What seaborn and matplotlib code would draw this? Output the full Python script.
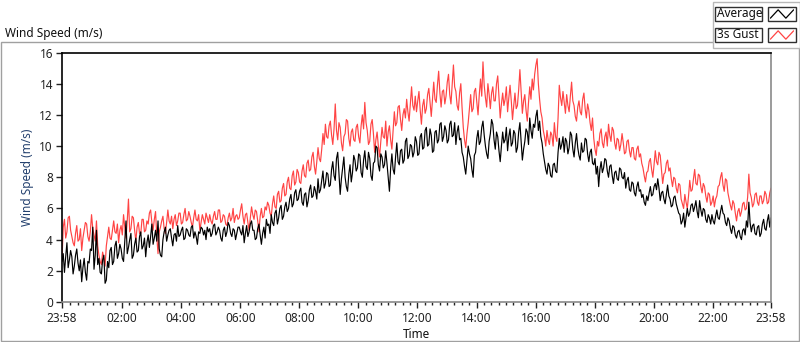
import numpy as np
import pandas as pd
import matplotlib
matplotlib.use("Agg")
import matplotlib.pyplot as plt
import seaborn as sns
from matplotlib.patches import Rectangle
from matplotlib.ticker import FixedLocator

# ------------------------------------------
# data: 2.5-minute readings from 23:58 to 23:58 (one row per hour)
# ------------------------------------------
avg_speed = [
    2.6, 3.1, 1.9, 2.9, 3.8, 2.2, 2.7, 3.3, 2.9, 1.8, 2.3, 3.0, 3.4, 2.5, 2.0, 2.7, 1.3, 2.2, 2.8, 1.9, 1.4, 2.6, 2.5, 3.4,
    3.3, 4.8, 2.1, 3.0, 4.6, 2.4, 2.8, 1.9, 1.8, 2.7, 3.0, 1.2, 1.4, 2.6, 2.2, 3.3, 3.5, 2.4, 2.6, 3.6, 3.9, 2.8, 3.1, 3.7,
    3.4, 2.8, 2.6, 3.9, 5.2, 3.1, 3.5, 4.0, 4.4, 2.8, 3.0, 3.7, 4.1, 3.2, 3.3, 4.2, 4.5, 3.4, 3.6, 4.1, 2.9, 3.8, 4.3, 3.5,
    4.2, 5.0, 3.7, 4.1, 4.6, 3.9, 5.2, 3.4, 3.0, 2.9, 4.0, 4.5, 4.8, 3.9, 4.3, 4.6, 4.7, 4.1, 3.6, 4.3, 4.4, 3.9, 4.9, 4.2,
    4.3, 4.6, 4.8, 4.0, 4.1, 4.7, 4.6, 4.3, 4.2, 4.8, 4.9, 4.1, 4.5, 4.2, 3.7, 4.5, 4.4, 4.8, 4.7, 4.3, 4.6, 4.0, 4.8, 4.5,
    4.7, 4.2, 4.4, 4.9, 5.0, 4.3, 4.5, 4.8, 4.6, 4.1, 3.9, 4.6, 4.8, 4.2, 4.5, 5.1, 4.9, 4.4, 4.2, 4.7, 4.6, 4.0, 4.4, 4.8,
    4.8, 4.5, 4.3, 4.9, 3.8, 4.4, 4.9, 4.2, 4.5, 5.0, 5.2, 4.6, 4.6, 4.0, 4.1, 4.7, 5.0, 4.3, 3.7, 4.4, 4.8, 4.1, 5.3, 4.9,
    5.0, 4.4, 5.6, 5.1, 4.9, 5.7, 5.9, 5.0, 5.4, 6.0, 6.2, 5.3, 5.5, 6.1, 6.4, 5.8, 6.0, 6.6, 6.9, 6.1, 6.3, 7.0, 7.2, 6.5,
    6.6, 7.1, 7.3, 6.4, 6.2, 6.9, 7.0, 6.1, 6.5, 7.2, 7.5, 6.7, 6.8, 7.4, 7.1, 6.6, 7.9, 7.0, 7.2, 7.8, 8.4, 7.3, 7.6, 8.3,
    8.2, 7.4, 7.5, 8.5, 9.0, 8.1, 7.8, 9.2, 9.6, 8.3, 6.9, 7.9, 8.6, 9.3, 8.0, 7.4, 7.1, 8.2, 8.8, 7.7, 8.3, 9.4, 9.1, 8.4,
    8.6, 9.5, 9.4, 8.3, 8.0, 9.1, 9.7, 8.7, 8.5, 9.6, 9.2, 8.1, 7.8, 8.9, 9.0, 10.0, 9.9, 8.8, 8.4, 9.5, 9.3, 8.6, 8.8, 9.7,
    8.9, 8.0, 7.1, 8.6, 9.5, 8.5, 8.2, 9.3, 10.2, 9.0, 8.8, 9.7, 9.8, 8.9, 9.1, 10.3, 10.5, 9.2, 9.4, 10.1, 10.0, 9.3, 9.6, 10.6,
    10.3, 9.4, 9.5, 10.6, 10.8, 9.8, 9.9, 11.0, 11.2, 10.0, 10.1, 11.1, 10.7, 9.6, 9.7, 10.9, 11.0, 10.2, 10.4, 11.4, 11.5, 10.3, 10.6, 11.3,
    11.0, 10.2, 10.4, 11.4, 11.6, 10.6, 10.7, 11.5, 10.1, 10.9, 11.3, 10.4, 10.5, 9.6, 9.3, 8.7, 8.2, 9.1, 10.0, 9.5, 9.2, 8.5, 8.0, 9.4,
    9.6, 10.5, 11.0, 10.1, 10.3, 11.2, 11.6, 10.7, 10.0, 9.5, 9.2, 10.3, 10.8, 11.7, 11.4, 10.4, 9.8, 10.9, 10.6, 9.7, 9.0, 10.0, 10.9, 10.2,
    10.4, 11.2, 9.7, 10.6, 11.1, 10.0, 10.2, 11.0, 10.8, 9.6, 9.9, 10.9, 11.5, 10.3, 9.1, 9.8, 10.3, 11.1, 10.9, 10.1, 11.8, 11.0, 10.5, 11.4,
    11.2, 11.9, 12.3, 11.0, 11.6, 10.6, 10.2, 9.5, 9.0, 8.5, 8.2, 8.9, 8.7, 8.1, 8.0, 8.8, 8.9, 8.4, 8.3, 9.6, 10.5, 9.8, 10.1, 10.6,
    9.6, 10.5, 10.3, 9.5, 9.9, 10.9, 10.7, 9.8, 9.3, 10.2, 10.8, 9.9, 9.4, 9.1, 10.2, 9.6, 9.7, 10.5, 10.4, 9.5, 9.0, 9.6, 9.8, 8.9,
    8.8, 9.2, 8.2, 8.7, 7.4, 8.5, 9.0, 8.3, 8.6, 9.2, 9.1, 8.4, 8.0, 8.7, 8.8, 8.1, 7.6, 8.3, 8.4, 7.9, 7.8, 8.6, 8.5, 8.0,
    7.9, 8.3, 7.3, 7.8, 8.0, 7.2, 7.1, 7.7, 7.6, 7.0, 6.8, 7.4, 7.7, 7.1, 7.2, 6.7, 6.9, 6.4, 6.2, 6.8, 6.5, 7.0, 7.4, 6.8,
    6.9, 7.4, 7.6, 7.2, 7.9, 7.3, 6.5, 7.0, 7.1, 6.6, 6.3, 6.9, 7.5, 6.8, 6.6, 6.1, 6.2, 6.7, 6.8, 6.3, 6.0, 5.7, 5.6, 5.0,
    5.2, 5.7, 4.8, 5.4, 6.0, 5.5, 5.7, 6.2, 6.3, 5.8, 6.1, 6.5, 5.8, 5.4, 6.5, 5.9, 5.5, 6.0, 5.9, 5.3, 5.1, 5.6, 5.4, 5.0,
    5.6, 5.2, 5.0, 5.5, 5.9, 5.4, 5.3, 5.8, 6.2, 5.7, 5.6, 5.1, 4.9, 5.4, 5.2, 4.7, 4.4, 4.9, 4.8, 4.3, 4.1, 4.5, 4.6, 4.2,
    4.0, 4.6, 4.7, 4.3, 5.2, 4.8, 6.4, 5.1, 4.5, 4.9, 5.0, 4.4, 4.3, 4.8, 4.9, 4.2, 4.4, 5.0, 5.3, 4.7, 4.6, 5.2, 5.6, 4.8,
    5.4,
]

gust_speed = [
    2.7, 4.8, 5.3, 4.1, 4.5, 5.4, 5.5, 4.6, 4.2, 3.8, 3.6, 4.4, 4.9, 3.9, 4.0, 4.7, 3.3, 4.1, 4.6, 5.1, 5.0, 4.2, 3.9, 4.5,
    5.6, 4.7, 4.3, 3.9, 5.2, 3.6, 3.0, 2.6, 2.4, 3.2, 2.8, 2.3, 3.6, 4.2, 4.8, 4.1, 4.0, 4.6, 5.2, 4.5, 4.4, 5.0, 3.8, 4.6,
    4.9, 4.3, 5.6, 4.8, 4.1, 5.2, 6.6, 4.5, 4.7, 5.5, 5.4, 4.6, 3.9, 4.8, 5.1, 4.4, 4.4, 5.3, 5.3, 4.5, 4.6, 5.2, 5.0, 5.7,
    5.9, 5.1, 4.6, 5.3, 5.8, 4.2, 3.1, 4.5, 4.8, 5.2, 5.5, 4.7, 4.4, 5.1, 5.9, 5.2, 5.0, 5.5, 4.7, 5.3, 5.6, 4.9, 5.2, 5.7,
    5.7, 5.0, 5.1, 5.6, 6.0, 5.2, 5.3, 5.8, 5.5, 5.1, 4.8, 5.4, 5.9, 5.3, 5.2, 5.6, 4.6, 5.1, 5.6, 5.3, 5.0, 5.7, 5.4, 5.1,
    5.6, 5.2, 5.0, 5.5, 5.8, 5.3, 5.3, 5.9, 5.9, 5.1, 5.2, 5.6, 5.5, 5.0, 4.9, 5.4, 5.7, 5.2, 5.4, 6.0, 5.1, 5.5, 5.6, 5.3,
    5.4, 5.9, 6.3, 5.5, 5.0, 5.6, 5.7, 5.1, 4.6, 5.4, 6.1, 5.6, 5.3, 5.9, 5.8, 5.2, 4.5, 5.5, 6.0, 5.4, 5.5, 6.1, 5.9, 6.4,
    6.2, 5.7, 5.5, 6.3, 6.8, 6.1, 6.0, 6.9, 7.1, 6.4, 6.5, 7.3, 7.6, 6.8, 6.9, 7.7, 8.0, 7.3, 7.2, 8.1, 8.4, 7.5, 7.7, 8.5,
    8.3, 7.7, 7.6, 8.4, 8.8, 8.1, 8.0, 8.9, 9.1, 8.4, 8.5, 9.3, 9.6, 8.7, 8.2, 9.0, 9.9, 9.2, 9.0, 9.8, 10.8, 10.1, 11.4, 10.6,
    10.5, 11.3, 11.6, 10.7, 10.1, 11.1, 12.7, 11.0, 10.4, 11.5, 11.2, 10.2, 9.7, 10.6, 10.8, 11.7, 11.6, 10.5, 10.0, 10.9, 11.1, 10.4, 10.3, 11.2,
    11.4, 10.6, 10.2, 11.3, 12.0, 11.1, 12.8, 11.5, 11.0, 10.1, 10.3, 11.4, 11.7, 10.8, 9.6, 10.4, 10.9, 10.0, 9.3, 10.3, 11.2, 10.6, 10.5, 11.6,
    10.0, 10.9, 11.3, 10.4, 9.8, 11.0, 12.2, 11.3, 11.5, 12.5, 12.6, 11.7, 11.0, 12.0, 12.4, 11.8, 13.0, 12.2, 11.6, 12.7, 13.8, 12.6, 12.3, 13.2,
    12.2, 12.9, 13.5, 12.3, 11.4, 12.6, 13.0, 12.1, 12.4, 13.3, 13.7, 12.8, 11.9, 13.0, 14.1, 13.0, 12.8, 13.9, 14.8, 13.4, 12.5, 13.5, 13.6, 12.7,
    13.2, 14.1, 14.6, 13.3, 12.7, 13.9, 15.2, 13.8, 13.5, 12.6, 12.3, 13.4, 14.0, 12.5, 11.2, 10.4, 9.9, 10.8, 11.5, 12.4, 13.3, 12.2, 12.4, 13.5,
    13.7, 12.8, 12.0, 13.3, 14.3, 13.2, 15.4, 13.9, 13.1, 12.5, 14.0, 13.3, 12.4, 13.4, 13.8, 12.9, 12.9, 14.0, 14.5, 13.2, 11.8, 12.7, 13.4, 12.6,
    13.0, 13.8, 12.2, 13.1, 13.9, 12.9, 11.7, 12.6, 13.4, 12.4, 12.6, 13.6, 14.9, 13.5, 12.1, 12.9, 13.3, 12.3, 11.6, 12.8, 13.8, 13.0, 14.3, 13.6,
    14.6, 15.2, 15.6, 14.0, 13.0, 12.2, 11.8, 11.0, 10.6, 10.0, 11.0, 10.4, 10.1, 10.9, 10.7, 10.0, 11.5, 10.6, 10.3, 11.8, 13.9, 13.1, 12.6, 13.5,
    12.8, 12.1, 13.3, 12.6, 12.2, 13.2, 14.1, 12.9, 12.6, 11.9, 11.6, 12.5, 12.9, 12.2, 12.0, 13.0, 13.4, 12.4, 11.8, 12.7, 12.3, 11.5, 11.0, 11.8,
    10.5, 9.8, 9.4, 10.3, 10.0, 10.8, 11.1, 10.2, 9.9, 10.6, 10.9, 10.0, 11.4, 10.7, 10.3, 11.2, 11.0, 10.2, 9.8, 10.5, 10.4, 9.7, 10.1, 10.8,
    10.2, 9.5, 9.6, 10.3, 10.4, 9.7, 9.3, 9.9, 9.9, 9.2, 9.1, 9.8, 10.0, 9.3, 9.5, 8.9, 8.6, 8.1, 7.7, 8.3, 8.4, 9.0, 9.2, 8.5,
    8.0, 8.8, 9.7, 9.0, 8.8, 9.6, 9.4, 8.5, 7.6, 8.2, 8.3, 8.9, 9.1, 8.4, 8.6, 7.9, 7.4, 8.0, 7.9, 7.3, 7.0, 7.6, 7.5, 6.6,
    6.3, 6.0, 6.9, 6.4, 6.0, 6.8, 7.8, 7.1, 7.2, 7.9, 8.5, 7.6, 7.5, 8.2, 8.1, 7.4, 7.0, 7.6, 7.4, 6.8, 6.4, 7.0, 6.9, 6.2,
    6.4, 6.8, 6.1, 6.6, 6.8, 7.4, 7.5, 8.0, 8.3, 7.5, 7.1, 7.9, 7.8, 7.0, 6.6, 6.2, 5.9, 6.5, 6.3, 5.7, 5.2, 5.8, 6.0, 5.5,
    5.8, 6.3, 6.4, 5.9, 6.0, 6.7, 8.2, 7.0, 6.7, 6.1, 6.3, 6.9, 7.0, 6.4, 6.2, 6.8, 6.8, 6.3, 6.5, 7.1, 6.9, 6.3, 6.4, 7.0,
    7.3,
]

minutes = np.arange(len(avg_speed)) * 2.5  # minutes after 23:58

tick_minutes = [0, 122, 242, 362, 482, 602, 722, 842, 962, 1082, 1202, 1322, 1440]
tick_labels = ["23:58", "02:00", "04:00", "06:00", "08:00", "10:00", "12:00",
               "14:00", "16:00", "18:00", "20:00", "22:00", "23:58"]
y_ticks = [0, 2, 4, 6, 8, 10, 12, 14, 16]

df = pd.DataFrame({"minute": minutes, "Average": avg_speed, "3s Gust": gust_speed})
df_long = df.melt(id_vars="minute", var_name="series", value_name="speed")

# ------------------------------------------
# plot
# ------------------------------------------
sns.set_style("white")
plt.rcParams["font.family"] = ["Noto Sans", "DejaVu Sans"]
FS = 8.5

W, H = 800, 342
fig = plt.figure(figsize=(8, 3.42), dpi=100)
fig.patch.set_facecolor("white")

def px(x0, y0, x1, y1):
    # pixel box (top-left origin) -> figure fraction rect
    return [x0 / W, 1 - y1 / H, (x1 - x0) / W, (y1 - y0) / H]

# outer panel frame
r = px(1, 42, 799, 341)
fig.patches.append(Rectangle((r[0], r[1]), r[2], r[3], transform=fig.transFigure,
                             fill=False, edgecolor="#a0a0a0", lw=1))
fig.text(5 / W, 1 - 33 / H, "Wind Speed (m/s)", fontsize=FS, va="center", ha="left", color="#111111")

ax = fig.add_axes(px(62, 52.5, 771, 302))
sns.lineplot(data=df_long, x="minute", y="speed", hue="series",
             hue_order=["3s Gust", "Average"],
             palette={"3s Gust": "#ff4444", "Average": "#000000"},
             estimator=None, linewidth=0.85, legend=False, ax=ax)

ax.set_xlim(0, 1440)
ax.set_ylim(0, 16)
ax.set_xticks(tick_minutes)
ax.set_xticklabels(tick_labels)
ax.xaxis.set_minor_locator(FixedLocator(list(range(17, 1440, 15))))
ax.set_yticks(y_ticks)
ax.tick_params(axis="both", which="major", direction="out", length=4.5, width=1,
               labelsize=FS, colors="#222222", bottom=True, left=True)
ax.tick_params(axis="x", which="major", pad=3)
ax.tick_params(axis="y", which="major", pad=2)
ax.tick_params(axis="x", which="minor", direction="out", length=2.5, width=1,
               bottom=True, color="#222222")
ax.set_xlabel("Time", fontsize=FS, color="#111111", labelpad=2)
ax.set_ylabel("Wind Speed (m/s)", fontsize=FS, color="#23406e", labelpad=4)

for side in ["top", "left"]:
    ax.spines[side].set_color("#000000")
    ax.spines[side].set_linewidth(1.2)
for side in ["bottom", "right"]:
    ax.spines[side].set_color("#8a8a8a")
    ax.spines[side].set_linewidth(1.2)

# legend panel (top right)
r = px(713, 2, 800, 48)
fig.patches.append(Rectangle((r[0], r[1]), r[2], r[3], transform=fig.transFigure,
                             facecolor="white", edgecolor="#b8b8b8", lw=1, zorder=5))

legend_items = [("Average", "#000000", 7, 21), ("3s Gust", "#ff4444", 28, 42)]
for name, col, y0, y1 in legend_items:
    r = px(715, y0, 762, y1)
    fig.patches.append(Rectangle((r[0], r[1]), r[2], r[3], transform=fig.transFigure,
                                 facecolor="white", edgecolor="#303030", lw=1, zorder=6))
    fig.text(717 / W, 1 - (y0 + y1) / 2 / H, name, fontsize=FS, va="center", ha="left",
             color="#111111", zorder=7)
    r = px(768, y0, 796, y1)
    fig.patches.append(Rectangle((r[0], r[1]), r[2], r[3], transform=fig.transFigure,
                                 facecolor="white", edgecolor="#303030", lw=1, zorder=6))
    icon = fig.add_axes(px(770, y0 + 2, 794, y1 - 2), zorder=8)
    icon.plot([0, 1, 2, 3], [0, 1, 0, 1], color=col, lw=0.9)
    icon.set_xlim(-0.05, 3.05)
    icon.set_ylim(-0.1, 1.1)
    icon.axis("off")

fig.savefig("out.png", dpi=100, facecolor="white")
